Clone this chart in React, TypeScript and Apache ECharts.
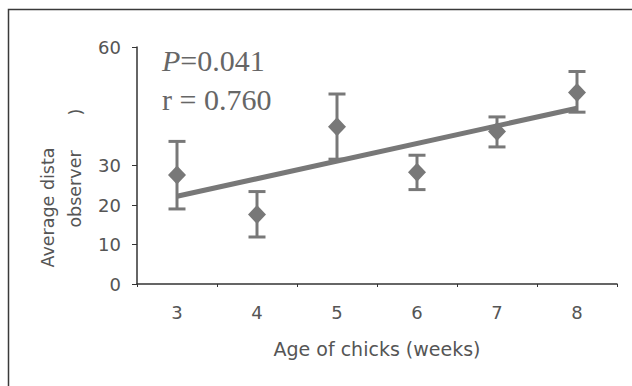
import React, { useEffect, useRef } from "react";
import * as echarts from "echarts";

const categories = ["3", "4", "5", "6", "7", "8"];
const means = [27.6, 17.6, 39.8, 28.3, 38.6, 48.5];
const errLow = [19.0, 11.9, 31.6, 23.9, 34.7, 43.5];
const errHigh = [36.1, 23.4, 48.1, 32.6, 42.3, 53.8];
const fitLine = [
  [0, 22.2],
  [5, 44.5],
];
const yTicks = [0, 10, 20, 30, 60];

const GRAY = "#787878";
const TEXT = "#555555";
const SANS = "DejaVu Sans";

export default function App() {
  const ref = useRef<HTMLDivElement>(null);

  useEffect(() => {
    if (!ref.current) return;
    const chart = echarts.init(ref.current, null, { renderer: "svg" });
    const errData = categories.map((_, i) => [i, errLow[i], errHigh[i]]);
    chart.setOption({
      animation: false,
      backgroundColor: "#ffffff",
      grid: { left: 137, right: 15, top: 47, bottom: 102 },
      xAxis: {
        type: "category",
        data: categories,
        boundaryGap: true,
        name: "Age of chicks (weeks)",
        nameLocation: "middle",
        nameGap: 55,
        nameTextStyle: { fontFamily: SANS, fontSize: 19, color: TEXT },
        axisLine: { lineStyle: { color: "#333", width: 1.5 } },
        axisTick: { show: true, length: 3, lineStyle: { color: "#333" } },
        axisLabel: { fontFamily: SANS, fontSize: 18, color: TEXT, margin: 19 },
        splitLine: { show: false },
      },
      yAxis: {
        type: "value",
        min: 0,
        max: 60,
        interval: 10,
        axisLine: { show: true, lineStyle: { color: "#333", width: 1.5 } },
        axisTick: {
          show: true,
          length: 5,
          customValues: yTicks,
          lineStyle: { color: "#333" },
        },
        axisLabel: {
          fontFamily: SANS,
          fontSize: 18,
          color: TEXT,
          margin: 16,
          customValues: yTicks,
        },
        splitLine: { show: false },
      },
      graphic: [
        {
          type: "rect",
          shape: { x: 8.5, y: 9.5, width: 700, height: 500 },
          style: { fill: "none", stroke: "#3a3a3a", lineWidth: 1.5 },
          silent: true,
        },
        {
          type: "text",
          x: 162,
          y: 60.5,
          style: {
            text: "{i|P}=0.041",
            font: "30px 'Liberation Serif'",
            fill: "#666",
            verticalAlign: "middle",
            align: "left",
            rich: {
              i: {
                fontStyle: "italic",
                fontFamily: "Liberation Serif",
                fontSize: 30,
                fill: "#666",
              },
            },
          },
        },
        {
          type: "text",
          x: 162,
          y: 99.5,
          style: {
            text: "r = 0.760",
            font: "30px 'Liberation Serif'",
            fill: "#666",
            verticalAlign: "middle",
            align: "left",
          },
        },
        {
          type: "text",
          x: 47.5,
          y: 207.5,
          rotation: Math.PI / 2,
          style: {
            text: "Average dista",
            font: `17.5px '${SANS}'`,
            fill: TEXT,
            align: "center",
            verticalAlign: "middle",
          },
        },
        {
          type: "text",
          x: 75,
          y: 189,
          rotation: Math.PI / 2,
          style: {
            text: "observer",
            font: `17.5px '${SANS}'`,
            fill: TEXT,
            align: "center",
            verticalAlign: "middle",
          },
        },
        {
          type: "text",
          x: 76,
          y: 112,
          rotation: Math.PI / 2,
          style: {
            text: ")",
            font: `17.5px '${SANS}'`,
            fill: TEXT,
            align: "center",
            verticalAlign: "middle",
          },
        },
      ],
      series: [
        {
          type: "line",
          data: fitLine,
          symbol: "none",
          lineStyle: { color: GRAY, width: 5 },
          z: 2,
        },
        {
          type: "custom",
          data: errData,
          z: 3,
          renderItem: (params: any, api: any) => {
            const x = api.value(0);
            const lo = api.coord([x, api.value(1)]);
            const hi = api.coord([x, api.value(2)]);
            const half = 8.5;
            const style = { stroke: GRAY, lineWidth: 3, fill: "none" };
            return {
              type: "group",
              children: [
                { type: "line", shape: { x1: lo[0], y1: lo[1], x2: hi[0], y2: hi[1] }, style },
                { type: "line", shape: { x1: hi[0] - half, y1: hi[1], x2: hi[0] + half, y2: hi[1] }, style },
                { type: "line", shape: { x1: lo[0] - half, y1: lo[1], x2: lo[0] + half, y2: lo[1] }, style },
              ],
            };
          },
        },
        {
          type: "scatter",
          data: means,
          symbol: "diamond",
          symbolSize: [18, 19],
          itemStyle: { color: GRAY, opacity: 1 },
          z: 4,
        },
      ],
    });
    return () => chart.dispose();
  }, []);

  return (
    <div
      ref={ref}
      style={{ position: "fixed", left: 0, top: 0, width: 632, height: 386 }}
    />
  );
}
